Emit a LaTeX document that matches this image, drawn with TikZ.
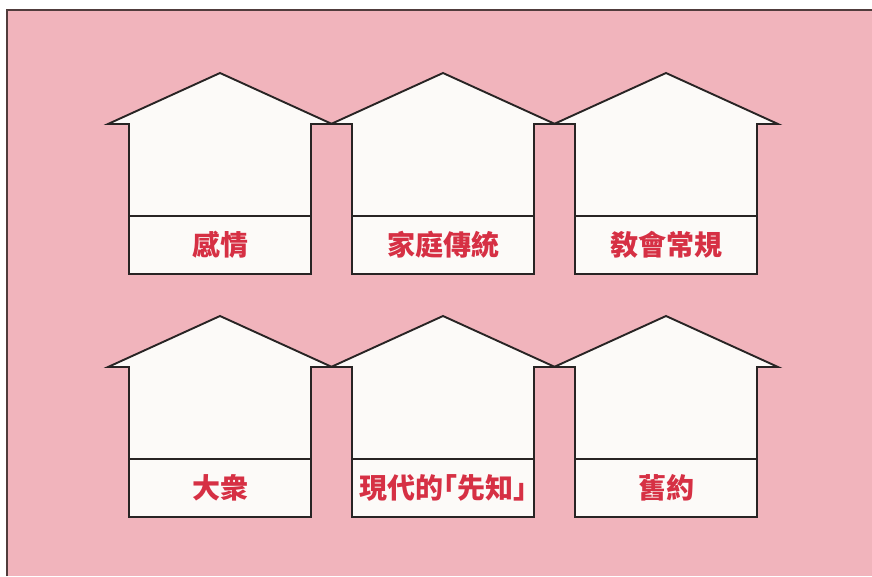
\documentclass[tikz,border=0pt]{standalone}
\usepackage{fontspec}
\newfontfamily\cjk{Noto Sans CJK TC}[RawFeature=+halt]
\definecolor{bgpink}{RGB}{241,180,188}
\definecolor{bordercol}{RGB}{80,60,60}
\definecolor{linecol}{RGB}{40,36,36}
\definecolor{housefill}{RGB}{252,250,248}
\definecolor{labelred}{RGB}{214,48,68}
\begin{document}
\begin{tikzpicture}[x=1pt,y=-1pt,
  house/.style={draw=linecol,line width=1.9pt,fill=housefill,line join=miter},
  divider/.style={draw=linecol,line width=1.6pt},
  lbl/.style={font=\cjk\bfseries\fontsize{28}{28}\selectfont,text=labelred,inner sep=0pt}]
\useasboundingbox (0,0) rectangle (872,576);
\fill[white] (0,0) rectangle (872,576);
\fill[bgpink] (7,10) rectangle (872,576);
\draw[bordercol,line width=1.5pt] (7,576) -- (7,10) -- (872,10);
\foreach \o in {0,243}{
  \foreach \c in {220,443,666}{
    \draw[house] ({\c-112},{124+\o}) -- ({\c},{73+\o}) -- ({\c+112},{124+\o})
      -- ({\c+91},{124+\o}) -- ({\c+91},{274+\o}) -- ({\c-91},{274+\o})
      -- ({\c-91},{124+\o}) -- cycle;
    \draw[divider] ({\c-91},{216+\o}) -- ({\c+91},{216+\o});
  }
}
\node[lbl] (l1) at (220,245) {感情};
\node[lbl] (l2) at (443,245) {家庭傳統};
\node[lbl] (l3) at (666,245) {敎會常規};
\node[lbl] (l4) at (220,488) {大衆};
\node[lbl] (l5) at (443,488) {現代的「先知」};
\node[lbl] (l6) at (666,488) {舊約};
\end{tikzpicture}
\end{document}
